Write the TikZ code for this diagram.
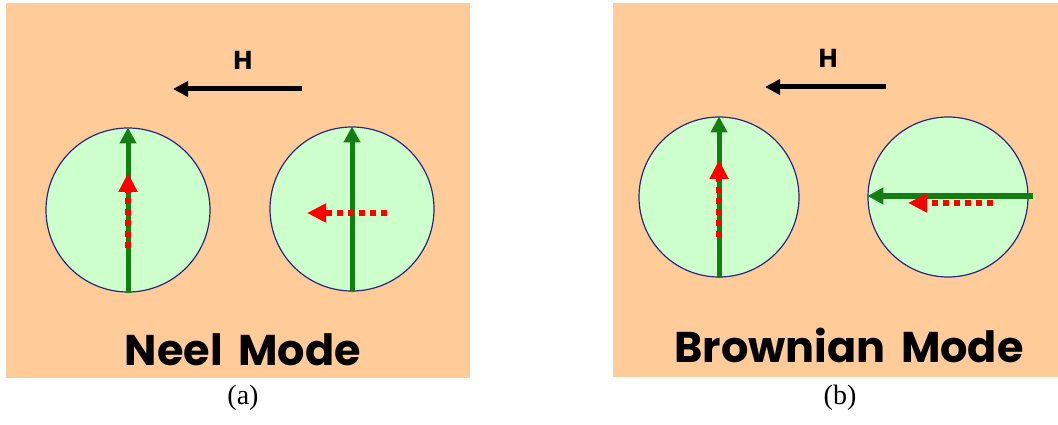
\documentclass[tikz,border=0pt]{standalone}
\usepackage{fontspec}
\setmainfont{Liberation Serif}
\newfontfamily\modefont{Poppins}
\usetikzlibrary{arrows.meta,positioning}
\definecolor{peach}{RGB}{255,204,153}
\definecolor{ballgreen}{RGB}{204,255,204}
\definecolor{rimblue}{RGB}{40,40,130}
\definecolor{spingreen}{RGB}{20,125,20}

\begin{document}
\begin{tikzpicture}[
  x=1pt, y=-1pt,
  panel/.style={fill=peach, draw=none},
  ball/.style={circle, fill=ballgreen, draw=rimblue, line width=1.2pt,
               minimum size=164pt, inner sep=0pt},
  spin/.style={-{Triangle[length=16pt,width=16pt]}, line width=5pt, color=spingreen},
  moment/.style={-{Triangle[length=19pt,width=18pt]}, line width=6pt, color=red,
                 dash pattern=on 6pt off 5pt},
  field/.style={-{Triangle[length=15pt,width=15pt]}, line width=5pt, color=black},
  modelabel/.style={font=\modefont\bfseries\fontsize{43}{46}\selectfont},
  hlabel/.style={font=\modefont\bfseries\fontsize{26}{30}\selectfont},
  caption/.style={font=\fontsize{28}{32}\selectfont}
]
  \useasboundingbox (0,0) rectangle (1058,425);

  % Neel mode
  \fill[panel] (6,3) rectangle (470,378);
  \node[hlabel] (hA) at (243,60) {H};
  \coordinate (hAend) at (302,89);
  \coordinate (hAtip) at (173,89);
  \draw[field] (hAend) -- (hAtip);

  \node[ball] (neelA) at (128,210) {};
  \node[ball] (neelB) at (352,209) {};
  \draw[spin] (neelA.south) -- (neelA.north);
  \draw[spin] (neelB.south) -- (neelB.north);
  \coordinate (mAend) at (128,248);
  \coordinate (mAtip) at (128,173);
  \coordinate (mBend) at (387,213);
  \coordinate (mBtip) at (307,213);
  \draw[moment] (mAend) -- (mAtip);
  \draw[moment] (mBend) -- (mBtip);

  \node[modelabel] (neel) at (243,350) {Neel\hspace{0.15em} Mode};
  \node[caption] (capA) at (243,398) {(a)};

  % Brownian mode
  \fill[panel] (613,3) rectangle (1058,377);
  \node[hlabel] (hB) at (828,58) {H};
  \coordinate (hBend) at (886,87);
  \coordinate (hBtip) at (765,87);
  \draw[field] (hBend) -- (hBtip);

  \node[ball, minimum size=160pt] (brownA) at (719,197) {};
  \node[ball, minimum size=160pt] (brownB) at (948,197) {};
  \draw[spin] (brownA.south) -- (brownA.north);
  \coordinate (sBend) at (1033,196);
  \draw[spin] (sBend) -- (brownB.west |- sBend);
  \coordinate (mCend) at (719,237);
  \coordinate (mCtip) at (719,160);
  \coordinate (mDend) at (993,203);
  \coordinate (mDtip) at (908,203);
  \draw[moment] (mCend) -- (mCtip);
  \draw[moment] (mDend) -- (mDtip);

  \node[modelabel] (brown) at (849,345) {Brownian\hspace{0.15em} Mode};
  \node[caption] (capB) at (840,398) {(b)};
\end{tikzpicture}
\end{document}
